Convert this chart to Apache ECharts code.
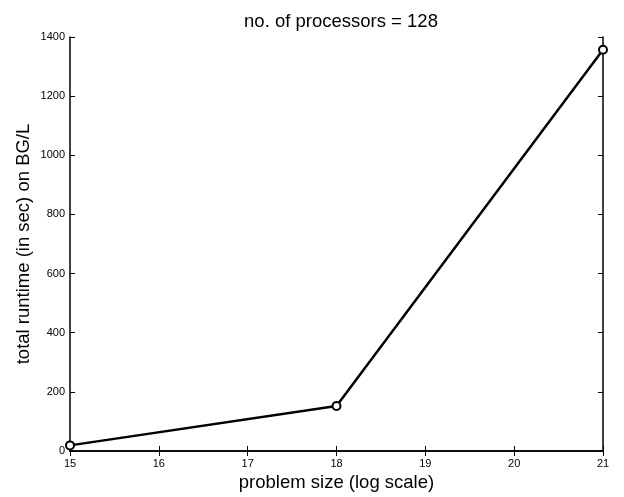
<!DOCTYPE html>
<html>
<head>
<meta charset="utf-8" />
<title>runtime</title>
<script src="https://cdn.jsdelivr.net/npm/echarts@6/dist/echarts.min.js"></script>
<style>
  body { margin: 0; background: #fff; }
  #main { width: 624px; height: 497px; }
</style>
</head>
<body>
<div id="main"></div>
<script type="text/javascript">
var problemSize = [15, 18, 21];
var runtime = [19, 152, 1357];
var xTicks = [15, 16, 17, 18, 19, 20, 21];
var yTicks = [0, 200, 400, 600, 800, 1000, 1200, 1400];

var points = problemSize.map(function (x, i) { return [x, runtime[i]]; });
var font = 'Liberation Sans, Arial, sans-serif';

var myChart = echarts.init(document.getElementById('main'));

// inner ticks, no grid lines, box frame like the original matlab plot
function axisBase(extra) {
  var base = {
    type: 'value',
    splitLine: { show: false },
    axisLine: { show: true, lineStyle: { color: '#000', width: 1.5 } },
    axisTick: { show: true, inside: true, length: 5, lineStyle: { color: '#000' } },
    axisLabel: {
      color: '#000', fontSize: 11, fontFamily: font, margin: 5,
      formatter: function (v) { return String(v); }
    }
  };
  for (var k in extra) base[k] = extra[k];
  return base;
}

var option = {
  animation: false,
  backgroundColor: '#fff',
  title: {
    text: 'no. of processors = 128',
    left: 336, top: 7, textAlign: 'center',
    textStyle: { fontSize: 18.5, fontWeight: 'normal', color: '#000', fontFamily: font }
  },
  grid: { left: 70, right: 21, top: 37, bottom: 39, show: false },
  xAxis: [
    axisBase({
      position: 'bottom',
      min: xTicks[0], max: xTicks[xTicks.length - 1], interval: 1,
      axisLabel: {
        color: '#000', fontSize: 11, fontFamily: font, margin: 7
      },
      name: 'problem size (log scale)',
      nameLocation: 'middle', nameGap: 22, nameMoveOverlap: false,
      nameTextStyle: { fontSize: 18.5, color: '#000', fontFamily: font }
    }),
    axisBase({
      position: 'top',
      min: xTicks[0], max: xTicks[xTicks.length - 1], interval: 1,
      axisLabel: { show: false }
    })
  ],
  yAxis: [
    axisBase({
      position: 'left',
      min: yTicks[0], max: yTicks[yTicks.length - 1], interval: 200,
      name: 'total runtime (in sec) on BG/L',
      nameLocation: 'middle', nameGap: 37, nameMoveOverlap: false,
      nameTextStyle: { fontSize: 18.5, color: '#000', fontFamily: font }
    }),
    axisBase({
      position: 'right',
      min: yTicks[0], max: yTicks[yTicks.length - 1], interval: 200,
      axisLabel: { show: false }
    })
  ],
  series: [{
    type: 'line',
    data: points,
    symbol: 'emptyCircle',
    symbolSize: 8,
    lineStyle: { color: '#000', width: 2.5 },
    itemStyle: { color: '#000', borderColor: '#000', borderWidth: 1.8 }
  }]
};

myChart.setOption(option);
</script>
</body>
</html>
